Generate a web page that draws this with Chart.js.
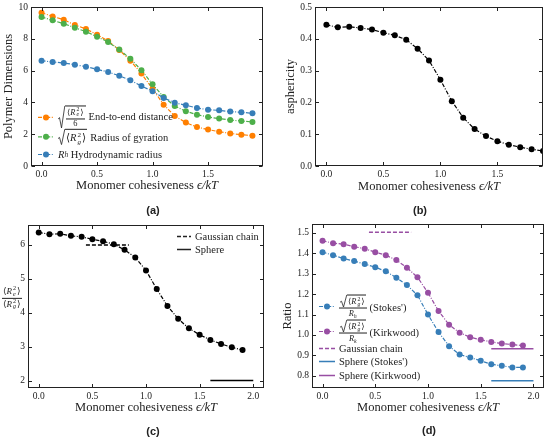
<!DOCTYPE html>
<html>
<head>
<meta charset="utf-8">
<script src="https://cdn.jsdelivr.net/npm/chart.js@4.4.0/dist/chart.umd.min.js"></script>
<style>
  body { margin:0; background:#fff; width:550px; height:441px; position:relative; overflow:hidden; font-family:"Liberation Serif", "DejaVu Serif", serif; color:#222; }
  canvas { position:absolute; }
  .cap { position:absolute; transform:translate(-50%,-50%); font:bold 11px "Liberation Sans", Arial, sans-serif; }
  .leg { position:absolute; display:flex; align-items:center; transform:translateY(-50%); font-size:10.5px; white-space:nowrap; }
  .leg svg.h { flex:none; margin-right:4px; }
  .rad { position:relative; display:inline-block; padding-left:7px; margin-right:3px; }
  .rad svg { position:absolute; left:0; top:0; width:7px; height:100%; }
  .rc { display:inline-block; border-top:0.8px solid #222; padding:1px 1px 0 1px; }
  .fr { display:inline-flex; flex-direction:column; align-items:center; vertical-align:middle; font-size:0.8em; line-height:1.1; margin-right:3px; }
  .fr .nu { border-bottom:0.7px solid #222; padding:0 1px; }
  .ss { display:inline-flex; flex-direction:column; font-size:0.68em; line-height:0.95; vertical-align:middle; margin:0 1px; }
  i { font-style:italic; }
  sub { font-size:0.7em; }
</style>
</head>
<body>
<canvas id="ca" width="275" height="220" style="left:0;top:0"></canvas>
<canvas id="cb" width="275" height="220" style="left:275px;top:0"></canvas>
<canvas id="cc" width="275" height="221" style="left:0;top:220px"></canvas>
<canvas id="cd" width="275" height="221" style="left:275px;top:220px"></canvas>

<!-- legend (a) -->
<div class="leg" style="left:38px;top:117px">
  <svg class="h" width="16" height="8"><line x1="0" y1="4" x2="16" y2="4" stroke="#ff7f00" stroke-width="1.2" stroke-dasharray="4 1.6 1 1.6"/><circle cx="8" cy="4" r="3" fill="#ff7f00"/></svg>
  <span class="rad"><svg viewBox="0 0 7 20" preserveAspectRatio="none"><polyline points="0,12 1.5,10.5 3.5,19.5 6.8,0.4" fill="none" stroke="#222" stroke-width="0.8" vector-effect="non-scaling-stroke"/></svg><span class="rc"><span class="fr" style="margin:0"><span class="nu">⟨<i>R</i><span class="ss"><span>2</span><i>e</i></span>⟩</span><span>6</span></span></span></span>
  End-to-end distance
</div>
<div class="leg" style="left:38px;top:137px">
  <svg class="h" width="16" height="8"><line x1="0" y1="4" x2="16" y2="4" stroke="#4daf4a" stroke-width="1.2" stroke-dasharray="4 1.6 1 1.6"/><circle cx="8" cy="4" r="3" fill="#4daf4a"/></svg>
  <span class="rad"><svg viewBox="0 0 7 20" preserveAspectRatio="none"><polyline points="0,12 1.5,10.5 3.5,19.5 6.8,0.4" fill="none" stroke="#222" stroke-width="0.8" vector-effect="non-scaling-stroke"/></svg><span class="rc">⟨<i>R</i><span class="ss"><span>2</span><i>g</i></span>⟩</span></span>
  Radius of gyration
</div>
<div class="leg" style="left:38px;top:154px">
  <svg class="h" width="16" height="8"><line x1="0" y1="4" x2="16" y2="4" stroke="#377eb8" stroke-width="1.2" stroke-dasharray="4 1.6 1 1.6"/><circle cx="8" cy="4" r="3" fill="#377eb8"/></svg>
  <i>R</i><sub><i>h</i></sub>&nbsp;Hydrodynamic radius
</div>

<!-- legend (c) -->
<div class="leg" style="left:177px;top:236px">
  <svg class="h" width="14" height="6"><line x1="0" y1="3" x2="14" y2="3" stroke="#222" stroke-width="1.4" stroke-dasharray="4 2"/></svg>Gaussian chain
</div>
<div class="leg" style="left:177px;top:249px">
  <svg class="h" width="14" height="6"><line x1="0" y1="3" x2="14" y2="3" stroke="#222" stroke-width="1.4"/></svg>Sphere
</div>
<!-- y label (c) -->
<div style="position:absolute;left:2px;top:298px;transform:translateY(-50%);font-size:9px">
  <span class="fr" style="font-size:1em"><span class="nu">⟨<i>R</i><span class="ss"><span>2</span><i>e</i></span>⟩</span><span>⟨<i>R</i><span class="ss"><span>2</span><i>g</i></span>⟩</span></span>
</div>

<!-- legend (d) -->
<div class="leg" style="left:319px;top:307px">
  <svg class="h" width="16" height="8"><line x1="0" y1="4" x2="16" y2="4" stroke="#377eb8" stroke-width="1.2" stroke-dasharray="4 1.6 1 1.6"/><circle cx="8" cy="4" r="3" fill="#377eb8"/></svg>
  <span class="fr"><span class="nu"><span class="rad" style="margin:0"><svg viewBox="0 0 7 20" preserveAspectRatio="none"><polyline points="0,12 1.5,10.5 3.5,19.5 6.8,0.4" fill="none" stroke="#222" stroke-width="0.8" vector-effect="non-scaling-stroke"/></svg><span class="rc">⟨<i>R</i><span class="ss"><span>2</span><i>g</i></span>⟩</span></span></span><span><i>R</i><sub><i>h</i></sub></span></span>
  (Stokes')
</div>
<div class="leg" style="left:319px;top:332px">
  <svg class="h" width="16" height="8"><line x1="0" y1="4" x2="16" y2="4" stroke="#984ea3" stroke-width="1.2" stroke-dasharray="4 1.6 1 1.6"/><circle cx="8" cy="4" r="3" fill="#984ea3"/></svg>
  <span class="fr"><span class="nu"><span class="rad" style="margin:0"><svg viewBox="0 0 7 20" preserveAspectRatio="none"><polyline points="0,12 1.5,10.5 3.5,19.5 6.8,0.4" fill="none" stroke="#222" stroke-width="0.8" vector-effect="non-scaling-stroke"/></svg><span class="rc">⟨<i>R</i><span class="ss"><span>2</span><i>g</i></span>⟩</span></span></span><span><i>R</i><sub><i>k</i></sub></span></span>
  (Kirkwood)
</div>
<div class="leg" style="left:319px;top:348px">
  <svg class="h" width="16" height="6"><line x1="0" y1="3" x2="16" y2="3" stroke="#984ea3" stroke-width="1.4" stroke-dasharray="4 2"/></svg>Gaussian chain
</div>
<div class="leg" style="left:319px;top:361px">
  <svg class="h" width="16" height="6"><line x1="0" y1="3" x2="16" y2="3" stroke="#377eb8" stroke-width="1.4"/></svg>Sphere (Stokes')
</div>
<div class="leg" style="left:319px;top:375px">
  <svg class="h" width="16" height="6"><line x1="0" y1="3" x2="16" y2="3" stroke="#984ea3" stroke-width="1.4"/></svg>Sphere (Kirkwood)
</div>

<div class="cap" style="left:153px;top:210px">(a)</div>
<div class="cap" style="left:420px;top:210px">(b)</div>
<div class="cap" style="left:153px;top:431px">(c)</div>
<div class="cap" style="left:429px;top:430px">(d)</div>

<script>
// ------------------------------
// DATA
// ------------------------------
const eps = [0.0, 0.1, 0.2, 0.3, 0.4, 0.5, 0.6, 0.7, 0.8, 0.9, 1.0, 1.1, 1.2, 1.3, 1.4, 1.5, 1.6, 1.7, 1.8, 1.9];

// (a) polymer dimensions
const endToEnd = [9.64, 9.41, 9.20, 8.87, 8.62, 8.26, 7.86, 7.30, 6.62, 5.81, 4.86, 3.86, 3.14, 2.73, 2.45, 2.29, 2.16, 2.05, 1.97, 1.91];
const gyration = [9.37, 9.16, 8.95, 8.70, 8.45, 8.13, 7.80, 7.32, 6.75, 6.02, 5.14, 4.34, 3.77, 3.44, 3.23, 3.08, 2.98, 2.89, 2.83, 2.77];
const hydroRadius = [6.62, 6.54, 6.48, 6.37, 6.25, 6.08, 5.91, 5.68, 5.39, 5.03, 4.70, 4.28, 3.98, 3.82, 3.65, 3.54, 3.50, 3.42, 3.38, 3.31];

// (b) asphericity
const asphericity = [0.444, 0.436, 0.438, 0.434, 0.429, 0.419, 0.411, 0.397, 0.369, 0.332, 0.271, 0.204, 0.152, 0.116, 0.094, 0.078, 0.067, 0.059, 0.053, 0.047];

// (c) Re^2 / Rg^2
const reRgRatio = [6.37, 6.32, 6.33, 6.27, 6.24, 6.17, 6.11, 6.02, 5.86, 5.63, 5.25, 4.70, 4.20, 3.82, 3.54, 3.35, 3.20, 3.08, 2.98, 2.90];
const gaussianX = [0.44, 0.84];
const gaussianReRg = 6.0;
const sphereX = [1.6, 2.0];
const sphereReRg = 2.0;

// (d) Rg / Rh ratios
const stokesRatio = [1.406, 1.391, 1.375, 1.362, 1.348, 1.332, 1.312, 1.281, 1.245, 1.195, 1.100, 1.014, 0.945, 0.904, 0.889, 0.874, 0.856, 0.849, 0.841, 0.841];
const kirkwoodRatio = [1.462, 1.450, 1.445, 1.433, 1.423, 1.406, 1.391, 1.367, 1.330, 1.283, 1.207, 1.118, 1.050, 1.011, 0.989, 0.976, 0.966, 0.958, 0.953, 0.948];
const gaussianRatio = 1.504;
const sphereStokes = 0.776;
const sphereKirkwood = 0.932;

// tick labels
const xTicksAB = [0.0, 0.5, 1.0, 1.5];
const xTicksCD = [0.0, 0.5, 1.0, 1.5, 2.0];
const yTicksA = [0, 2, 4, 6, 8, 10];
const yTicksB = [0.0, 0.1, 0.2, 0.3, 0.4, 0.5];
const yTicksC = [2, 3, 4, 5, 6];
const yTicksD = [0.8, 0.9, 1.0, 1.1, 1.2, 1.3, 1.4, 1.5];

// ------------------------------
// STYLE
// ------------------------------
const SERIF = '"Liberation Serif", "DejaVu Serif", serif';
const ORANGE = "#ff7f00", GREEN = "#4daf4a", BLUE = "#377eb8", PURPLE = "#984ea3", INK = "#222";
const XTITLE = [["Monomer cohesiveness ", false], ["ϵ/kT", true]];

function series(ys, color, order) {
  return {
    data: eps.map((x, i) => ({ x: x, y: ys[i] })),
    borderColor: color, backgroundColor: color,
    borderWidth: 1.2, borderDash: [4, 1.6, 1, 1.6],
    pointRadius: 3, pointHoverRadius: 3, pointBorderWidth: 0,
    pointBackgroundColor: color, order: order || 0
  };
}

function hline(xs, yv, color, dash) {
  return {
    data: xs.map(x => ({ x: x, y: yv })),
    borderColor: color, borderWidth: 1.5, borderDash: dash || [],
    pointRadius: 0, pointHoverRadius: 0
  };
}

function axis(min, max, ticks, fmt, size, isX) {
  return {
    type: "linear", min: min, max: max,
    grid: { display: false, drawTicks: false },
    border: { display: false },
    ticks: { font: { family: SERIF, size: 9.5 }, color: INK, padding: isX ? 3 : 3, autoSkip: false, maxRotation: 0, callback: v => fmt(v) },
    afterBuildTicks: s => { s.ticks = ticks.map(v => ({ value: v })); },
    afterFit: s => {
      if (isX) s.height = size; else s.width = size;
      s.paddingLeft = s.paddingRight = s.paddingTop = s.paddingBottom = 0;
    }
  };
}

// box with inward ticks on every side
const frame = {
  id: "frame",
  afterDraw(chart) {
    const { ctx, chartArea: a, scales: { x, y } } = chart;
    const L = Math.round(a.left) + 0.5, R = Math.round(a.right) - 0.5;
    const T = Math.round(a.top) + 0.5, B = Math.round(a.bottom) - 0.5;
    ctx.save();
    ctx.strokeStyle = INK;
    ctx.lineWidth = 1;
    ctx.strokeRect(L, T, R - L, B - T);
    ctx.beginPath();
    x.ticks.forEach(t => {
      const px = Math.round(x.getPixelForValue(t.value)) + 0.5;
      ctx.moveTo(px, B); ctx.lineTo(px, B - 3.5);
      ctx.moveTo(px, T); ctx.lineTo(px, T + 3.5);
    });
    y.ticks.forEach(t => {
      const py = Math.round(y.getPixelForValue(t.value)) + 0.5;
      ctx.moveTo(L, py); ctx.lineTo(L + 3.5, py);
      ctx.moveTo(R, py); ctx.lineTo(R - 3.5, py);
    });
    ctx.stroke();
    ctx.restore();
  }
};

// axis titles (x title mixes upright and italic text)
const titles = {
  id: "titles",
  afterDraw(chart, args, o) {
    const { ctx, chartArea: a } = chart;
    const fnt = it => (it ? "italic " : "") + "12.5px " + SERIF;
    ctx.save();
    ctx.fillStyle = INK;
    ctx.textBaseline = "middle";
    ctx.textAlign = "left";
    let w = 0;
    XTITLE.forEach(p => { ctx.font = fnt(p[1]); w += ctx.measureText(p[0]).width; });
    let x0 = (a.left + a.right) / 2 - w / 2;
    const y0 = a.bottom + o.xdy;
    XTITLE.forEach(p => { ctx.font = fnt(p[1]); ctx.fillText(p[0], x0, y0); x0 += ctx.measureText(p[0]).width; });
    if (o.y) {
      ctx.translate(a.left - o.ydx, o.yc != null ? o.yc : (a.top + a.bottom) / 2);
      ctx.rotate(-Math.PI / 2);
      ctx.font = fnt(false);
      ctx.textAlign = "center";
      ctx.fillText(o.y, 0, 0);
    }
    ctx.restore();
  }
};

function makeChart(id, datasets, pad, xs, ys, ttl) {
  return new Chart(document.getElementById(id), {
    type: "line",
    data: { datasets: datasets },
    options: {
      responsive: false, animation: false,
      layout: { padding: pad },
      plugins: { legend: { display: false }, tooltip: { enabled: false }, titles: ttl },
      scales: { x: xs, y: ys }
    },
    plugins: [frame, titles]
  });
}

// ------------------------------
// (a) POLYMER DIMENSIONS
// ------------------------------
makeChart("ca",
  [series(endToEnd, ORANGE, 3), series(gyration, GREEN, 2), series(hydroRadius, BLUE, 1)],
  { top: 7, left: 0, right: 12, bottom: 24 },
  axis(-0.095, 1.995, xTicksAB, v => v.toFixed(1), 30, true),
  axis(0, 10, yTicksA, v => String(v), 31, false),
  { xdy: 20, y: "Polymer Dimensions", ydx: 22 });

// ------------------------------
// (b) ASPHERICITY
// ------------------------------
makeChart("cb",
  [series(asphericity, "#000")],
  { top: 7, left: 0, right: 7, bottom: 24 },
  axis(-0.1, 1.9, xTicksAB, v => v.toFixed(1), 30, true),
  axis(0, 0.5, yTicksB, v => v.toFixed(1), 40, false),
  { xdy: 21, y: "asphericity", ydx: 24 });

// ------------------------------
// (c) Re^2 / Rg^2
// ------------------------------
makeChart("cc",
  [series(reRgRatio, "#000", 0),
   hline(gaussianX, gaussianReRg, "#000", [4, 2]),
   hline(sphereX, sphereReRg, "#000")],
  { top: 5, left: 0, right: 11, bottom: 23 },
  axis(-0.1, 2.1, xTicksCD, v => v.toFixed(1), 30, true),
  axis(1.78, 6.59, yTicksC, v => String(v), 28, false),
  { xdy: 20 });

// ------------------------------
// (d) RATIOS
// ------------------------------
makeChart("cd",
  [series(stokesRatio, BLUE, 1), series(kirkwoodRatio, PURPLE, 0),
   hline(gaussianX, gaussianRatio, PURPLE, [4, 2]),
   hline(sphereX, sphereStokes, BLUE),
   hline(sphereX, sphereKirkwood, PURPLE)],
  { top: 4, left: 0, right: 6, bottom: 23 },
  axis(-0.1, 2.1, xTicksCD, v => v.toFixed(1), 30, true),
  axis(0.74, 1.544, yTicksD, v => v.toFixed(1), 37, false),
  { xdy: 20, y: "Ratio", ydx: 24, yc: 96 });
</script>
</body>
</html>
